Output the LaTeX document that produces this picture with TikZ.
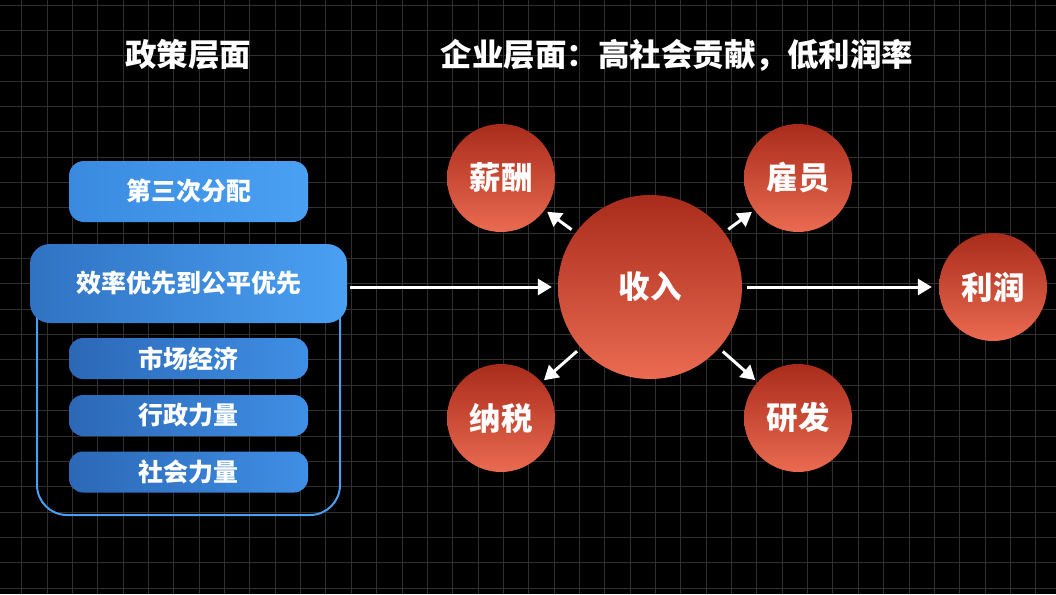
\documentclass[tikz,border=0pt]{standalone}
\usepackage{fontspec}
\setmainfont{Noto Sans CJK SC}
\usetikzlibrary{arrows.meta}
\definecolor{gridc}{HTML}{303030}
\definecolor{redtop}{HTML}{A92B1B}
\definecolor{redbot}{HTML}{EA6B51}
\definecolor{bluelightL}{HTML}{3A8BE0}
\definecolor{bluelightR}{HTML}{4AA0F3}
\definecolor{bluedarkL}{HTML}{2C68B6}
\definecolor{bluedarkR}{HTML}{3F8FE6}
\definecolor{outline}{HTML}{4A9FF0}
\tikzset{
  x=1pt,y=-1pt,
  title/.style={text=white,font=\fontsize{31.5}{36}\selectfont\bfseries},
  boxtext/.style={text=white,font=\fontsize{25}{29}\selectfont\bfseries},
  topbox/.style={boxtext,rounded corners=15pt,left color=bluelightL,right color=bluelightR,minimum width=239pt,minimum height=61pt,inner sep=0pt},
  mainbox/.style={boxtext,rounded corners=20pt,left color=bluedarkL!70!bluelightL,right color=bluelightR,minimum width=317pt,minimum height=79pt,inner sep=0pt},
  subbox/.style={boxtext,rounded corners=14pt,left color=bluedarkL,right color=bluedarkR,minimum width=239pt,minimum height=41pt,inner sep=0pt},
  ball/.style={circle,top color=redtop,bottom color=redbot,text=white,font=\fontsize{31.5}{36}\selectfont\bfseries,inner sep=0pt},
  small/.style={ball,minimum size=108pt},
  big/.style={ball,minimum size=184pt},
  conn/.style={white,line width=3pt,-{Triangle[length=14pt,width=16pt]}},
}
\begin{document}
\begin{tikzpicture}
\useasboundingbox (0,0) rectangle (1056,594);
\fill[black] (0,0) rectangle (1056,594);
\foreach \i in {0,...,41} {
  \draw[gridc,line width=0.9pt] ({21.7+25.35*\i},0) -- ({21.7+25.35*\i},594);
}
\foreach \j in {0,...,23} {
  \draw[gridc,line width=0.9pt] (0,{5+25.35*\j}) -- (1056,{5+25.35*\j});
}
% titles
\node[title] (t1) at (188,55) {政策层面};
\node[title] (t2) at (677,55) {企业层面：高社会贡献，低利润率};
% left side
\draw[outline,line width=2pt,rounded corners=30pt] (37,290) rectangle (340,515);
\node[topbox] (b3) at (188.5,191.5) {第三次分配};
\node[mainbox] (be) at (188.5,283.5) {效率优先到公平优先};
\node[subbox] (bm) at (188.5,358.5) {市场经济};
\node[subbox] (ba) at (188.5,415.5) {行政力量};
\node[subbox] (bs) at (188.5,472) {社会力量};
% circles
\node[big] (inc) at (650,287) {收入};
\node[small] (sal) at (501,178) {薪酬};
\node[small] (emp) at (798,178) {雇员};
\node[small] (tax) at (501,418) {纳税};
\node[small] (rd) at (798,418) {研发};
\node[small] (pro) at (993,287) {利润};
% connectors
\draw[conn,shorten <=3pt,shorten >=6pt] (be.east |- inc.west) -- (inc.west);
\draw[conn,shorten <=5pt,shorten >=7pt] (inc.east) -- (pro.west);
\draw[conn,shorten <=5pt,shorten >=3pt] (inc) -- (sal);
\draw[conn,shorten <=5pt,shorten >=3pt] (inc) -- (emp);
\draw[conn,shorten <=5pt,shorten >=3pt] (inc) -- (tax);
\draw[conn,shorten <=5pt,shorten >=3pt] (inc) -- (rd);
\end{tikzpicture}
\end{document}
